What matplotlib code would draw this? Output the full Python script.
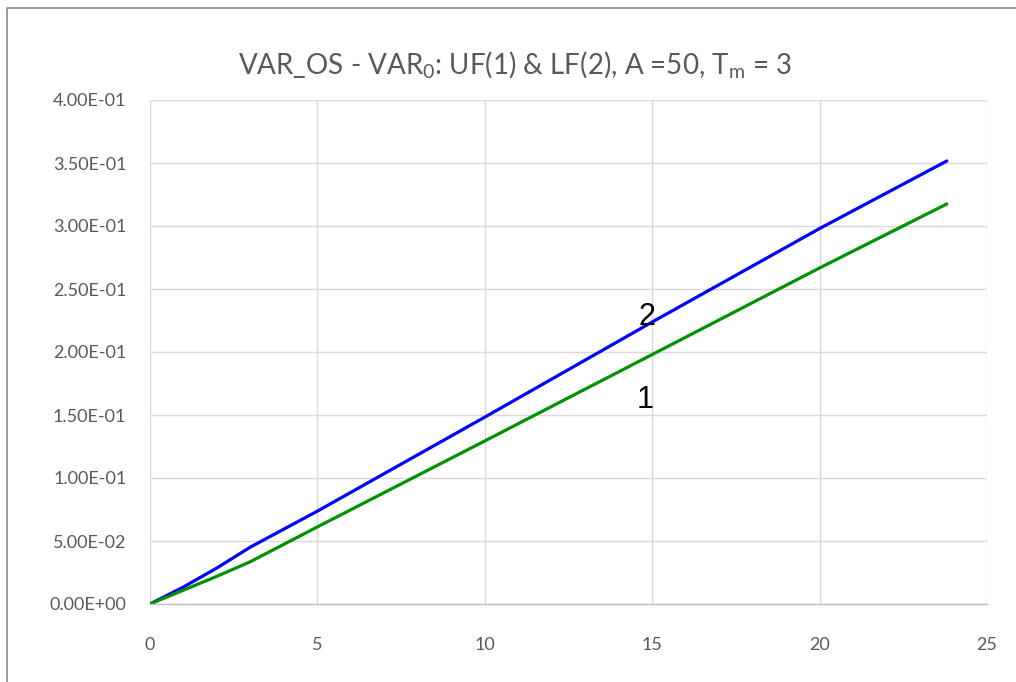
import matplotlib
matplotlib.use("Agg")
import matplotlib.pyplot as plt
from matplotlib.patches import Rectangle
from matplotlib import font_manager

# Data
x_vals = [0, 1, 2, 3, 5, 10, 15, 20, 23.8]
lf_vals = [0.0, 0.0135, 0.0286, 0.0452, 0.0737, 0.1483, 0.2238, 0.2980, 0.3516]   # curve 2 (blue)
uf_vals = [0.0, 0.0110, 0.0220, 0.0336, 0.0612, 0.1294, 0.1980, 0.2667, 0.3175]   # curve 1 (green)
x_ticks = [0, 5, 10, 15, 20, 25]
y_ticks = [0.0, 0.05, 0.10, 0.15, 0.20, 0.25, 0.30, 0.35, 0.40]
y_tick_labels = ["0.00E+00", "5.00E-02", "1.00E-01", "1.50E-01", "2.00E-01",
                 "2.50E-01", "3.00E-01", "3.50E-01", "4.00E-01"]
title = "VAR_OS - VAR$_{\\mathrm{0}}$: UF(1) & LF(2), A =50, T$_{\\mathrm{m}}$ = 3"
curve_labels = ["2", "1"]
curve_label_pos = [(14.85, 0.2214), (14.8, 0.1556)]

plt.rcParams['font.family'] = ['Lato', 'DejaVu Sans']
plt.rcParams['mathtext.fontset'] = 'custom'
plt.rcParams['mathtext.rm'] = 'Lato'
plt.rcParams['mathtext.it'] = 'Lato'

names = {f.name for f in font_manager.fontManager.ttflist}
narrow = 'Liberation Sans Narrow' if 'Liberation Sans Narrow' in names else 'Liberation Sans'

W, H = 1016, 682
fig = plt.figure(figsize=(W / 100, H / 100), dpi=100)
ax = fig.add_axes([150 / W, 1 - 604 / H, (987 - 150) / W, (604 - 100) / H])

# outer chart border
fig.patches.append(Rectangle((7 / W, -0.1), 1.2, (H - 8) / H + 0.1, transform=fig.transFigure,
                             fill=False, edgecolor='#8c8c8c', linewidth=1.2))

ax.plot(x_vals, lf_vals, color='#0000FF', linewidth=2.3, solid_capstyle='round')
ax.plot(x_vals, uf_vals, color='#009100', linewidth=2.3, solid_capstyle='round')

ax.set_xlim(0, 25)
ax.set_ylim(0, 0.4)
ax.set_xticks(x_ticks)
ax.set_xticklabels([str(t) for t in x_ticks])
ax.set_yticks(y_ticks)
ax.set_yticklabels(y_tick_labels)
ax.grid(True, color='#d9d9d9', linewidth=1.0)
ax.set_axisbelow(True)
for side in ['top', 'right', 'left']:
    ax.spines[side].set_visible(False)
ax.spines['bottom'].set_color('#bfbfbf')
ax.spines['bottom'].set_linewidth(1.0)
ax.tick_params(axis='both', length=0, labelsize=13, labelcolor='#595959')
ax.tick_params(axis='x', pad=24)
ax.tick_params(axis='y', pad=17)

for lab, (lx, ly) in zip(curve_labels, curve_label_pos):
    ax.text(lx, ly, lab, fontsize=22, color='black', ha='center', va='baseline',
            family=[narrow, 'DejaVu Sans'])

fig.text(515 / W, 1 - 64 / H, title, fontsize=20, color='#595959', ha='center', va='center')

fig.savefig("out.png", dpi=100)
